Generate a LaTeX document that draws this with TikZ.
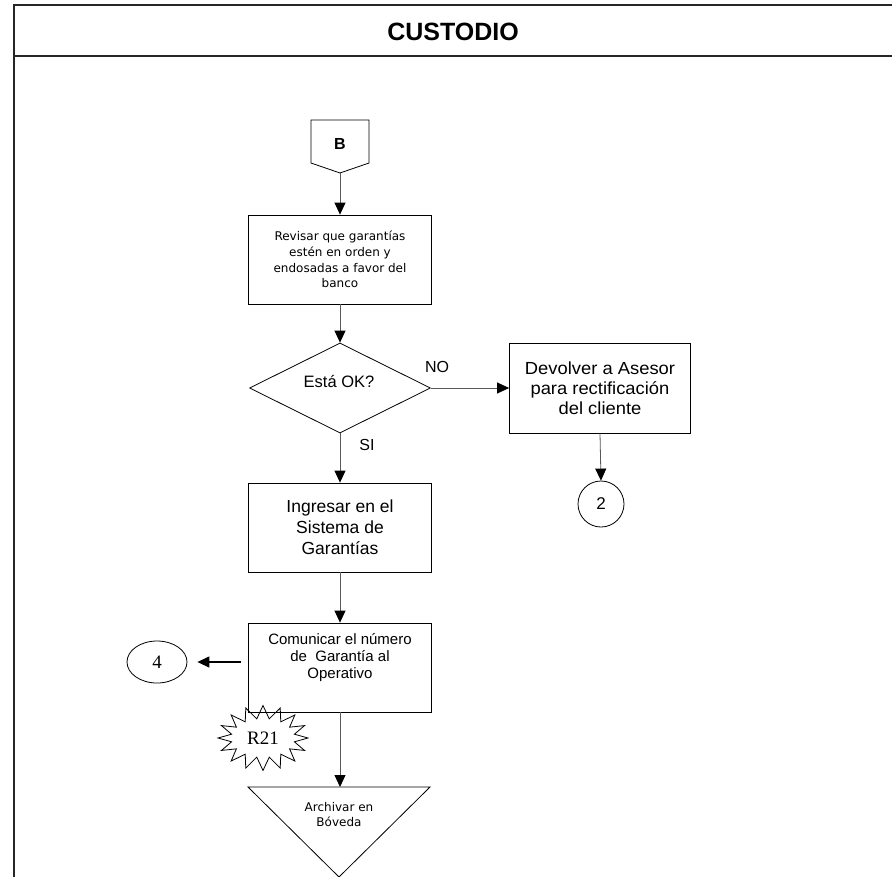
\documentclass[tikz,border=0pt]{standalone}
\usepackage{fontspec}
\setmainfont{Liberation Sans}
\newfontfamily\dv{DejaVu Sans}
\newfontfamily\tms{Liberation Serif}
\newfontfamily\wide[FakeStretch=1.05]{Liberation Sans}
\usetikzlibrary{shapes.geometric,shapes.symbols,arrows.meta}
\begin{document}
\begin{tikzpicture}[x=1pt,y=-1pt,
  box/.style={draw=black,line width=0.8pt,minimum width=183pt,minimum height=89pt,inner sep=0pt,align=center},
  conn/.style={draw=black!65,line width=0.8pt,-{Triangle[length=12pt,width=11pt,color=black]}},
  shp/.style={draw=black,line width=0.8pt},
  frame/.style={line width=2.2pt,draw=black!85}]
\useasboundingbox (0,0) rectangle (892,876);
\fill[white] (0,0) rectangle (892,876);
% frame
\draw[frame] (14,880) -- (14,5) -- (900,5);
\draw[frame] (14,56) -- (900,56);
\node[font=\bfseries\fontsize{25}{30}\selectfont] (title) at (453,32) {CUSTODIO};
% off-page connector B
\draw[shp] (311,120) -- (369,120) -- (369,163) -- (340,173) -- (311,163) -- cycle;
\node[font=\bfseries\fontsize{16}{19}\selectfont] (B) at (340,144) {B};
\coordinate (Bbot) at (340,173);
% boxes
\node[box,font=\dv\fontsize{12}{15.7}\selectfont] (revisar) at (340,259.5)
  {Revisar que garantías\\estén en orden y\\endosadas a favor del\\banco};
\node[shp,diamond,aspect=2,minimum width=181pt,minimum height=90pt,inner sep=0pt] (ok) at (340,388) {};
\node[font=\fontsize{16.5}{19}\selectfont] (oktext) at (339,381) {Está OK?};
\node[box,minimum width=181pt,minimum height=90pt,font=\wide\fontsize{17.5}{20}\selectfont] (devolver) at (600,388)
  {Devolver a Asesor\\para rectificación\\del cliente};
\node[shp,circle,minimum size=46pt,inner sep=0pt,font=\fontsize{17}{20}\selectfont] (c2) at (601,504) {2};
\node[box,font=\fontsize{17.5}{21}\selectfont] (ingresar) at (340,527.5)
  {Ingresar en el\\Sistema de\\Garantías};
\node[box,font=\fontsize{15}{17}\selectfont] (comunicar) at (340,667.5)
  {Comunicar el número\\de\ \ Garantía al\\Operativo\\[6pt]};
\node[shp,ellipse,minimum width=60pt,minimum height=42pt,inner sep=0pt,font=\tms\fontsize{19}{22}\selectfont] (c4) at (157,662) {4};
\coordinate (a4start) at (241,662);
\node[shp,starburst,starburst points=16,starburst point height=13pt,random starburst=0,
  minimum width=90pt,minimum height=65pt,inner sep=0pt,font=\tms\fontsize{19}{22}\selectfont] (r21) at (263,738) {R21};
% triangle
\draw[shp] (248,787) -- (430,787) -- (339,877) -- cycle;
\coordinate (tritop) at (340,787);
\node[font=\dv\fontsize{12}{15}\selectfont,align=center] (archivar) at (339,815) {Archivar en\\Bóveda};
% labels
\node[font=\fontsize{16}{19}\selectfont] (no) at (437,367) {NO};
\node[font=\fontsize{16}{19}\selectfont] (si) at (367,445) {SI};
% connectors
\draw[conn] (Bbot) -- (revisar.north);
\draw[conn] (revisar.south) -- (ok.north);
\draw[conn] (ok.east) -- (devolver.west);
\draw[conn] (ok.south) -- (ingresar.north);
\draw[conn] (devolver.south) -- (c2.north);
\draw[conn] (ingresar.south) -- (comunicar.north);
\draw[conn] (comunicar.south) -- (tritop);
\draw[draw=black,line width=1.3pt,-{Triangle[length=12pt,width=11pt]}] (a4start) -- ([xshift=10pt]c4.east);
\end{tikzpicture}
\end{document}
